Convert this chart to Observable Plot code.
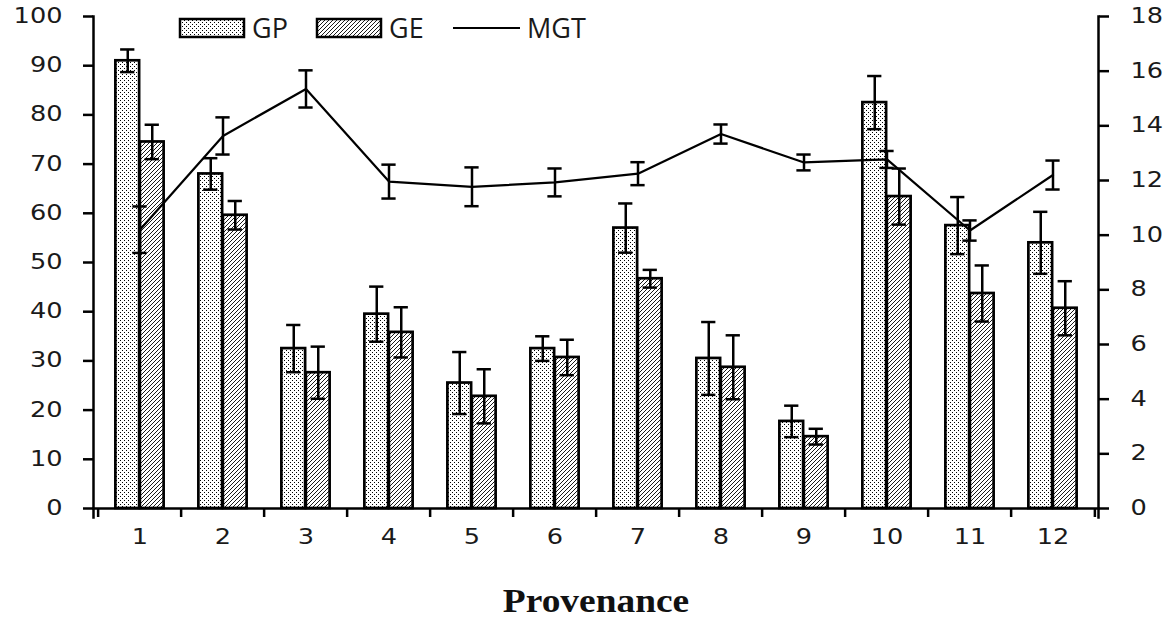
<!DOCTYPE html>
<html>
<head>
<meta charset="utf-8">
<script src="https://cdn.jsdelivr.net/npm/d3@7"></script>
<script src="https://cdn.jsdelivr.net/npm/@observablehq/plot@0.6"></script>
<style>
  html, body { margin: 0; padding: 0; background: #fff; }
  #wrap { position: relative; width: 1169px; height: 619px; }
  #legend { position: absolute; left: 0; top: 0; }
  #patterns { position: absolute; width: 0; height: 0; }
</style>
</head>
<body>
<svg id="patterns" width="0" height="0">
  <defs>
    <pattern id="dots" width="4" height="4" patternUnits="userSpaceOnUse">
      <rect width="4" height="4" fill="#fff"></rect>
      <rect x="0" y="0" width="1" height="1" fill="#000"></rect>
      <rect x="2" y="2" width="1" height="1" fill="#000"></rect>
    </pattern>
    <pattern id="hatch" width="4" height="4" patternUnits="userSpaceOnUse">
      <rect width="4" height="4" fill="#fff"></rect>
      <path d="M-1,1 l2,-2 M0,4 l4,-4 M3,5 l2,-2" stroke="#000" stroke-width="0.9"></path>
    </pattern>
  </defs>
</svg>
<div id="wrap">
  <div id="chart"></div>
  <svg id="legend" width="640" height="50"></svg>
</div>
<script>
// Provenances and measured germination traits
const provenance = ["1", "2", "3", "4", "5", "6", "7", "8", "9", "10", "11", "12"];
const gp    = [91, 68, 32.5, 39.5, 25.5, 32.5, 57, 30.5, 17.7, 82.5, 57.5, 54];
const gpErr = [2.3, 3.2, 4.8, 5.6, 6.3, 2.5, 5, 7.4, 3.2, 5.4, 5.8, 6.3];
const ge    = [74.5, 59.6, 27.6, 35.8, 22.8, 30.7, 46.7, 28.7, 14.6, 63.4, 43.7, 40.7];
const geErr = [3.5, 2.9, 5.3, 5.1, 5.5, 3.6, 1.8, 6.5, 1.6, 5.7, 5.7, 5.5];
const mgt    = [10.2, 13.63, 15.35, 11.96, 11.77, 11.93, 12.25, 13.7, 12.66, 12.77, 10.17, 12.2];
const mgtErr = [0.85, 0.68, 0.68, 0.62, 0.71, 0.51, 0.42, 0.35, 0.29, 0.31, 0.37, 0.53];

const leftTicks = d3.range(0, 101, 10);
const rightTicks = d3.range(0, 19, 2);
const seriesNames = ["GP", "GE", "MGT"];
const xTitle = "Provenance";

// Layout
const W = 1169, H = 619;
const mL = 93, mR = 71, mT = 16, mB = 111;
const step = (W - mL - mR) / provenance.length;
const half = step / 2;
const barW = 24.5;
const capW = 15;
const ink = "#000";

// MGT lives on the right axis (0–18); map it onto the left 0–100 range
const rightMax = 18;
const toLeft = v => v * 100 / rightMax;

const rows = provenance.map((p, i) => ({
  p, gp: gp[i], gpErr: gpErr[i], ge: ge[i], geErr: geErr[i], mgt: mgt[i], mgtErr: mgtErr[i]
}));

function errorBars(get, getErr, dx, toY = v => v, width = 2.5) {
  const inset = half - capW / 2;
  return [
    Plot.ruleX(rows, {x: "p", y1: d => toY(get(d) - getErr(d)), y2: d => toY(get(d) + getErr(d)), dx, stroke: ink, strokeWidth: width}),
    Plot.tickY(rows, {x: "p", y: d => toY(get(d) + getErr(d)), dx, insetLeft: inset, insetRight: inset, stroke: ink, strokeWidth: width}),
    Plot.tickY(rows, {x: "p", y: d => toY(get(d) - getErr(d)), dx, insetLeft: inset, insetRight: inset, stroke: ink, strokeWidth: width})
  ];
}

const chart = Plot.plot({
  width: W, height: H,
  marginLeft: mL, marginRight: mR, marginTop: mT, marginBottom: mB,
  style: {fontFamily: "DejaVu Sans", fontSize: "20.5px", color: "#1a1a1a", background: "#fff"},
  x: {type: "band", domain: provenance, padding: 0},
  y: {domain: [0, 100]},
  marks: [
    Plot.barY(rows, {x: "p", y: "gp", fill: "url(#dots)", stroke: ink, strokeWidth: 2.7, insetLeft: half - barW, insetRight: half}),
    Plot.barY(rows, {x: "p", y: "ge", fill: "url(#hatch)", stroke: ink, strokeWidth: 2.7, insetLeft: half, insetRight: half - barW}),
    ...errorBars(d => d.gp, d => d.gpErr, -barW / 2),
    ...errorBars(d => d.ge, d => d.geErr, barW / 2),
    Plot.line(rows, {x: "p", y: d => toLeft(d.mgt), stroke: ink, strokeWidth: 2.2}),
    ...errorBars(d => d.mgt, d => d.mgtErr, 0, toLeft, 2.5),
    Plot.frame({anchor: "left", stroke: ink, strokeWidth: 2.5, insetBottom: -9}),
    Plot.frame({anchor: "right", stroke: ink, strokeWidth: 2.5, insetBottom: -9}),
    Plot.frame({anchor: "bottom", stroke: ink, strokeWidth: 2.5}),
    Plot.axisY({anchor: "left", ticks: leftTicks, tickSize: 10, tickPadding: 21, strokeWidth: 2.5, stroke: ink, label: null}),
    Plot.axisY({anchor: "right", ticks: rightTicks.map(toLeft), tickFormat: d => String(Math.round(d * rightMax / 100)),
      tickSize: 10, tickPadding: 22, strokeWidth: 2.5, stroke: ink, label: null}),
    Plot.axisX({anchor: "bottom", tickSize: 0, tickPadding: 21, label: null}),
    Plot.axisX({anchor: "bottom", tickSize: 9, tickFormat: () => "", dx: -half, strokeWidth: 2.5, stroke: ink, label: null}),
    Plot.axisX({anchor: "bottom", ticks: [provenance[provenance.length - 1]], tickSize: 9, tickFormat: () => "", dx: half, strokeWidth: 2.5, stroke: ink, label: null}),
    Plot.text([xTitle], {text: d => d, frameAnchor: "bottom", dy: 93, lineAnchor: "middle",
      fontFamily: "Liberation Serif", fontWeight: "bold", fontSize: 34, fill: "#111"})
  ]
});
document.getElementById("chart").append(chart);

// Widen the axis lettering slightly
function stretch(textEl, k) {
  const len = textEl.getComputedTextLength();
  if (len > 0) {
    textEl.setAttribute("textLength", (len * k).toFixed(1));
    textEl.setAttribute("lengthAdjust", "spacingAndGlyphs");
  }
}
chart.querySelectorAll('g[aria-label$="tick label"] text').forEach(t => stretch(t, 1.25));
chart.querySelectorAll("text").forEach(t => { if (t.textContent === xTitle) stretch(t, 1.1); });

// Legend along the top of the plot area
const legend = d3.select("#legend");
const legendFont = "'Open Sans', sans-serif";
const swatchW = 64, swatchH = 18, legendY = 28;
const legendX = [180, 317, 453];
seriesNames.forEach((name, i) => {
  const g = legend.append("g").attr("transform", `translate(${legendX[i]},${legendY})`);
  if (name === "MGT") {
    g.append("line").attr("x1", 0).attr("x2", 67).attr("y1", 0).attr("y2", 0)
      .attr("stroke", ink).attr("stroke-width", 2.2);
  } else {
    g.append("rect").attr("x", 0).attr("y", -swatchH / 2).attr("width", swatchW).attr("height", swatchH)
      .attr("fill", name === "GP" ? "url(#dots)" : "url(#hatch)").attr("stroke", ink).attr("stroke-width", 2.5);
  }
  g.append("text").attr("x", name === "MGT" ? 74 : swatchW + 8).attr("y", 0).attr("dy", "0.36em")
    .attr("font-family", legendFont).attr("font-size", 27).attr("fill", "#1a1a1a").text(name);
});
</script>
</body>
</html>
